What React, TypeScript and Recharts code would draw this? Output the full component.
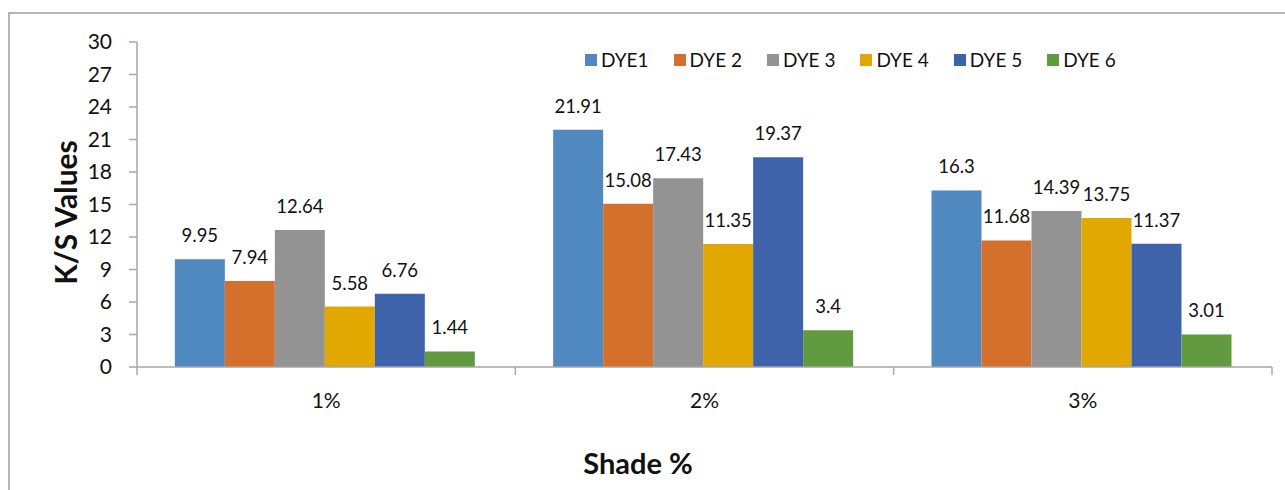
import React from "react";
import { BarChart, Bar, XAxis, YAxis, Legend, LabelList } from "recharts";

const FONT = "Lato, 'Open Sans', sans-serif";
const AXIS_GREY = "#a6a6a6";
const TEXT = "#111111";

const shades = ["1%", "2%", "3%"];
const dye1 = [9.95, 21.91, 16.3];
const dye2 = [7.94, 15.08, 11.68];
const dye3 = [12.64, 17.43, 14.39];
const dye4 = [5.58, 11.35, 13.75];
const dye5 = [6.76, 19.37, 11.37];
const dye6 = [1.44, 3.4, 3.01];
const yTicks = [0, 3, 6, 9, 12, 15, 18, 21, 24, 27, 30];

const series = [
  { key: "dye1", name: "DYE1", values: dye1, color: "#4f89bf" },
  { key: "dye2", name: "DYE 2", values: dye2, color: "#d46f2c" },
  { key: "dye3", name: "DYE 3", values: dye3, color: "#939393" },
  { key: "dye4", name: "DYE 4", values: dye4, color: "#e0a800" },
  { key: "dye5", name: "DYE 5", values: dye5, color: "#3e63ab" },
  { key: "dye6", name: "DYE 6", values: dye6, color: "#629a3f" },
];

const chartData = shades.map((shade, i) => {
  const row: Record<string, string | number> = { shade };
  series.forEach((s) => {
    row[s.key] = s.values[i];
  });
  return row;
});

// category label plus tick marks on the band edges (Excel style)
function ShadeTick(props: any) {
  const { x, y, payload, index, visibleTicksCount, width } = props;
  const half = payload?.offset || width / (2 * visibleTicksCount);
  const isLast = index === visibleTicksCount - 1;
  return (
    <g>
      <line x1={x - half} x2={x - half} y1={y} y2={y + 8} stroke={AXIS_GREY} strokeWidth={1.5} />
      {isLast && (
        <line x1={x + half} x2={x + half} y1={y} y2={y + 8} stroke={AXIS_GREY} strokeWidth={1.5} />
      )}
      <text x={x} y={y + 41} textAnchor="middle" fontFamily={FONT} fontSize={21} fill={TEXT}>
        {payload.value}
      </text>
    </g>
  );
}

// keep legend entries in series order
function LegendRow(props: any) {
  const items = [...(props.payload || [])].sort(
    (a: any, b: any) =>
      series.findIndex((s) => s.name === a.value) - series.findIndex((s) => s.name === b.value)
  );
  return (
    <div style={{ display: "flex", alignItems: "center", fontFamily: FONT, fontSize: 19, color: TEXT }}>
      {items.map((item: any) => (
        <div key={item.value} style={{ display: "flex", alignItems: "center", marginRight: 25 }}>
          <span style={{ width: 12, height: 12, background: item.color, marginRight: 4, display: "inline-block" }} />
          <span>{item.value}</span>
        </div>
      ))}
    </div>
  );
}

export default function App() {
  return (
    <div style={{ position: "absolute", left: 0, top: 0, width: 1285, height: 490, background: "#fff", overflow: "hidden" }}>
      <div
        style={{
          position: "absolute",
          left: 8,
          top: 12,
          width: 1277,
          height: 478,
          boxSizing: "border-box",
          borderLeft: "2px solid #b5b5b5",
          borderTop: "2px solid #b5b5b5",
        }}
      />
      <div style={{ position: "absolute", left: 0, top: 0 }}>
        <BarChart
          width={1285}
          height={490}
          data={chartData}
          margin={{ top: 42, right: 13, left: 0, bottom: 0 }}
          barCategoryGap="10%"
          barGap={0}
        >
          <XAxis
            dataKey="shade"
            height={123}
            interval={0}
            tickLine={false}
            tickSize={0}
            tickMargin={0}
            axisLine={{ stroke: AXIS_GREY, strokeWidth: 1.5 }}
            tick={<ShadeTick />}
            label={{
              content: () => (
                <text x={638} y={474} textAnchor="middle" fontFamily={FONT} fontSize={29} fontWeight="bold" fill={TEXT}>
                  Shade %
                </text>
              ),
            }}
          />
          <YAxis
            width={137}
            domain={[0, 30]}
            ticks={yTicks}
            interval={0}
            tickSize={8}
            tickMargin={17}
            axisLine={{ stroke: AXIS_GREY, strokeWidth: 1.5 }}
            tickLine={{ stroke: AXIS_GREY, strokeWidth: 1.5 }}
            tick={{ fontSize: 21, fill: TEXT, fontFamily: FONT }}
            label={{
              content: (p: any) => {
                const vb = p.viewBox || { y: 42, height: 325 };
                const cy = vb.y + vb.height / 2 + 8;
                return (
                  <text
                    x={77}
                    y={cy}
                    transform={`rotate(-90, 77, ${cy})`}
                    textAnchor="middle"
                    fontFamily={FONT}
                    fontSize={30}
                    fontWeight="bold"
                    fill={TEXT}
                  >
                    K/S Values
                  </text>
                );
              },
            }}
          />
          <Legend
            layout="horizontal"
            verticalAlign="middle"
            align="center"
            content={<LegendRow />}
            wrapperStyle={{ top: 48, left: 585, width: 640 }}
          />
          {series.map((s) => (
            <Bar key={s.key} dataKey={s.key} name={s.name} fill={s.color} isAnimationActive={false}>
              <LabelList
                dataKey={s.key}
                position="top"
                offset={17}
                fill={TEXT}
                fontSize={18.5}
                fontFamily={FONT}
              />
            </Bar>
          ))}
        </BarChart>
      </div>
    </div>
  );
}
